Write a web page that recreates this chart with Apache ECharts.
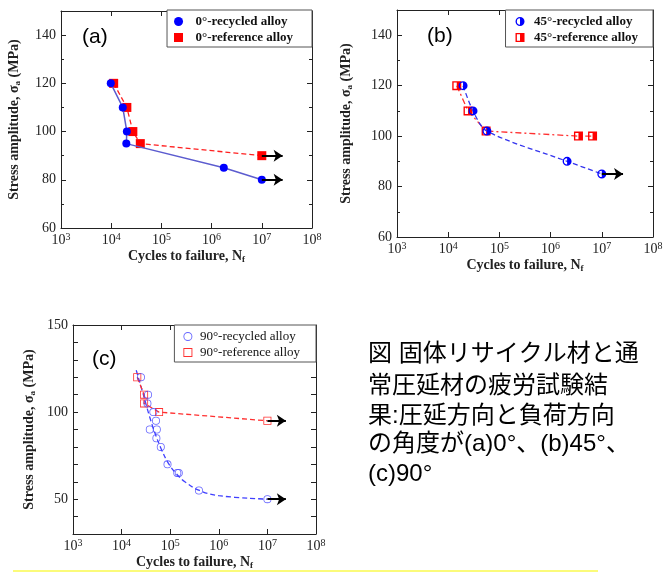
<!DOCTYPE html>
<html>
<head>
<meta charset="utf-8">
<script src="https://cdn.jsdelivr.net/npm/echarts@6/dist/echarts.min.js"></script>
<style>html,body{margin:0;padding:0;background:#fff;}#main{width:668px;height:572px;}</style>
</head>
<body>
<div id="main"></div>
<script>
// ---- data ----
const recA_x = [9.8e3, 1.7e4, 2.05e4, 2.0e4, 1.75e6, 1.0e7];
const recA_y = [120, 110, 100, 95, 85, 80];
const refA_x = [1.12e4, 2.05e4, 2.7e4, 3.8e4, 1.0e7];
const refA_y = [120, 110, 100, 95, 90];

const recB_x = [1.95e4, 3.05e4, 5.7e4, 2.1e6, 1.0e7];
const recB_y = [120, 110, 102, 90, 85];
const refB_x = [1.47e4, 2.44e4, 5.5e4, 3.5e6, 6.6e6];
const refB_y = [120, 110, 102, 100, 100];

const recC_x = [2.5e4, 3.5e4, 3.4e4, 4.5e4, 5.1e4, 3.8e4, 5.3e4, 5.2e4, 6.4e4, 8.8e4, 1.4e5, 1.5e5, 3.9e5, 1.0e7];
const recC_y = [120, 110, 105, 100, 95, 90, 90, 85, 80, 70, 65, 65, 55, 50];
const fitC_x = [2.0e4, 2.8e4, 3.8e4, 5.0e4, 6.5e4, 9.0e4, 1.3e5, 2.0e5, 4.0e5, 1.0e6, 1.0e7];
const fitC_y = [124, 110, 97, 87, 79, 71, 65, 60, 55, 52, 50];
const refC_x = [2.1e4, 2.9e4, 2.9e4, 5.9e4, 1.0e7];
const refC_y = [120, 110, 105, 100, 95];

const arrowsA = [[[1e7, 80], [2.6e7, 80]], [[1e7, 90], [2.6e7, 90]]];
const arrowsB = [[[1e7, 85], [2.6e7, 85]]];
const arrowsC = [[[1e7, 95], [2.4e7, 95]], [[1e7, 50], [2.4e7, 50]]];

const yTicksAB = [60, 80, 100, 120, 140];
const yTicksC = [50, 100, 150];
const names = {
  recA: '0°-recycled alloy', refA: '0°-reference alloy',
  recB: '45°-recycled alloy', refB: '45°-reference alloy',
  recC: '90°-recycled alloy', refC: '90°-reference alloy'
};
const captionLines = ['図 固体リサイクル材と通', '常圧延材の疲労試験結', '果:圧延方向と負荷方向', 'の角度が(a)0°、(b)45°、', '(c)90°'];

// ---- helpers ----
const zip = (xs, ys) => xs.map((x, i) => [x, ys[i]]);
const SERIF = 'Liberation Serif';
const halfCircle = 'path://M10,0 A10,10 0 1 1 10,20 A10,10 0 1 1 10,0 Z M10,3 A7,7 0 0 0 10,17 Z';
const halfSquare = 'path://M0,0 L20,0 L20,20 L0,20 Z M3,3 L3,17 L10,17 L10,3 Z';
const square = 'path://M0,0 L20,0 L20,20 L0,20 Z';
const emptySquare = 'path://M0,0 L20,0 L20,20 L0,20 Z M2,2 L2,18 L18,18 L18,2 Z';
const ring = 'path://M10,0 A10,10 0 1 1 10,20 A10,10 0 1 1 10,0 Z M10,2 A8,8 0 1 0 10,18 A8,8 0 1 0 10,2 Z';

const grids = [
  {left: 61, top: 11, width: 251, height: 217},
  {left: 397, top: 10, width: 256, height: 227},
  {left: 73, top: 325, width: 243, height: 209}
];

function xAxis(gi, top) {
  return {
    type: 'log', logBase: 10, min: 1e3, max: 1e8, gridIndex: gi,
    position: top ? 'top' : 'bottom',
    axisLine: {show: true, lineStyle: {color: '#222', width: 1}},
    axisTick: {show: true, inside: true, length: 5, lineStyle: {color: '#222'}},
    minorTick: {show: false},
    splitLine: {show: false},
    axisLabel: top ? {show: false} : {
      show: true, margin: 4,
      formatter: v => '{b|10}{e|' + Math.round(Math.log10(v)) + '}',
      rich: {
        b: {fontFamily: SERIF, fontSize: 14, color: '#222'},
        e: {fontFamily: SERIF, fontSize: 10, color: '#222', padding: [0, 0, 7, 0]}
      }
    },
    name: top ? '' : 'Cycles to failure, N{s|f}',
    nameLocation: 'middle', nameGap: 21,
    nameTextStyle: {
      fontFamily: SERIF, fontSize: 14, fontWeight: 'bold', color: '#222',
      rich: {s: {fontFamily: SERIF, fontSize: 9, color: '#222', padding: [6, 0, 0, 0]}}
    }
  };
}
function yAxis(gi, right, min, max, interval, ticks, gap) {
  return {
    type: 'value', gridIndex: gi, min: min, max: max, interval: interval,
    position: right ? 'right' : 'left',
    axisLine: {show: true, lineStyle: {color: '#222', width: 1}},
    axisTick: {show: true, inside: true, length: 5, lineStyle: {color: '#222'}},
    minorTick: interval === 20 ? {show: true, splitNumber: 2, length: 3, lineStyle: {color: '#222'}} : {show: false},
    splitLine: {show: false},
    axisLabel: right ? {show: false} : {
      show: true, margin: 5, fontFamily: SERIF, fontSize: 14, color: '#222',
      formatter: v => ticks.indexOf(v) >= 0 ? String(v) : ''
    },
    name: right ? '' : 'Stress amplitude, σ{s|a} (MPa)',
    nameLocation: 'middle', nameGap: gap, nameRotate: 90,
    nameTextStyle: {
      fontFamily: SERIF, fontSize: 14, fontWeight: 'bold', color: '#222',
      rich: {s: {fontFamily: SERIF, fontSize: 9, fontWeight: 'bold', color: '#222', padding: [6, 0, 0, 0]}}
    }
  };
}
function arrows(list) {
  return {
    silent: true, symbol: ['none', 'arrow'], symbolSize: 9,
    lineStyle: {color: '#000', type: 'solid', width: 2}, label: {show: false},
    data: list.map(a => [{coord: a[0]}, {coord: a[1]}])
  };
}
function legend(items, right, top, pad, bold, size, textPadL) {
  return {
    orient: 'vertical', right: right, top: top, padding: pad,
    itemWidth: 10, itemHeight: 9, itemGap: 3,
    borderColor: '#555', borderWidth: 1, backgroundColor: '#fff',
    textStyle: {fontFamily: SERIF, fontSize: size, fontWeight: bold ? 'bold' : 'normal', color: '#111',
      padding: [0, 0, 0, textPadL]},
    data: items, selectedMode: false
  };
}

const option = {
  animation: false,
  backgroundColor: '#fff',
  grid: grids,
  xAxis: [xAxis(0, false), xAxis(1, false), xAxis(2, false), xAxis(0, true), xAxis(1, true), xAxis(2, true)],
  yAxis: [
    yAxis(0, false, 60, 150, 20, yTicksAB, 39),
    yAxis(1, false, 60, 150, 20, yTicksAB, 43),
    yAxis(2, false, 30, 150, 10, yTicksC, 36),
    yAxis(0, true, 60, 150, 20, yTicksAB, 0),
    yAxis(1, true, 60, 150, 20, yTicksAB, 0),
    yAxis(2, true, 30, 150, 10, yTicksC, 0)
  ],
  legend: [
    legend([{name: names.recA, icon: 'circle'}, {name: names.refA, icon: square}], 356, 10, [5, 19, 3, 7], true, 13, 7),
    legend([{name: names.recB, icon: halfCircle}, {name: names.refB, icon: halfSquare}], 15, 10, [5, 15, 3, 10], true, 13, 4),
    legend([{name: names.recC, icon: ring}, {name: names.refC, icon: emptySquare}], 352, 325, [5, 16, 3, 9], false, 13, 2)
  ],
  series: [
    // (a)
    {name: names.refA, type: 'line', xAxisIndex: 0, yAxisIndex: 0, data: zip(refA_x, refA_y),
      symbol: 'rect', symbolSize: 9, itemStyle: {color: '#ff0000'},
      lineStyle: {color: '#ff2020', type: [5, 3], width: 1.3}, z: 3, markLine: arrows([arrowsA[1]])},
    {name: names.recA, type: 'line', xAxisIndex: 0, yAxisIndex: 0, data: zip(recA_x, recA_y),
      symbol: 'circle', symbolSize: 8, itemStyle: {color: '#0000ff'},
      lineStyle: {color: '#5c5ccf', type: 'solid', width: 1.5}, z: 4, markLine: arrows([arrowsA[0]])},
    // (b)
    {name: names.refB, type: 'line', xAxisIndex: 1, yAxisIndex: 1, data: zip(refB_x, refB_y),
      symbol: halfSquare, symbolSize: 9, itemStyle: {color: '#ff0000'},
      lineStyle: {color: '#ff3030', type: [6, 3, 2, 3], width: 1.3}, z: 3},
    {name: names.recB, type: 'line', xAxisIndex: 1, yAxisIndex: 1, data: zip(recB_x, recB_y),
      symbol: halfCircle, symbolSize: 9, smooth: 0.3, itemStyle: {color: '#0000ff'},
      lineStyle: {color: '#3535ee', type: [5, 3], width: 1.3}, z: 4, markLine: arrows(arrowsB)},
    // (c)
    {name: 'fitC', type: 'line', xAxisIndex: 2, yAxisIndex: 2, data: zip(fitC_x, fitC_y),
      symbol: 'none', smooth: 0.4, lineStyle: {color: '#4040ff', type: [5, 3], width: 1.3}, z: 2},
    {name: names.refC, type: 'line', xAxisIndex: 2, yAxisIndex: 2, data: zip(refC_x, refC_y),
      symbol: emptySquare, symbolSize: 8, itemStyle: {color: '#ff3030'},
      lineStyle: {color: '#ff3030', type: [5, 3], width: 1.3}, z: 3, markLine: arrows([arrowsC[0]])},
    {name: names.recC, type: 'scatter', xAxisIndex: 2, yAxisIndex: 2, data: zip(recC_x, recC_y),
      symbol: ring, symbolSize: 8, itemStyle: {color: '#4040ff'}, z: 4,
      markLine: arrows([arrowsC[1]])}
  ],
  graphic: [
    {type: 'text', left: 82, top: 27, style: {text: '(a)', font: '21px "Liberation Sans"', fill: '#000'}},
    {type: 'text', left: 427, top: 26, style: {text: '(b)', font: '21px "Liberation Sans"', fill: '#000'}},
    {type: 'text', left: 92, top: 349, style: {text: '(c)', font: '21px "Liberation Sans"', fill: '#000'}},
    {type: 'rect', left: 13, top: 570, shape: {width: 585, height: 2}, style: {fill: '#fbfb7a'}, z: -1}
  ].concat(captionLines.map((t, i) => ({
    type: 'text', left: 368, top: [342, 374, 404, 432, 462][i],
    style: {text: t, font: '24px "Liberation Sans", "Noto Sans CJK JP"', fill: '#000'}
  })))
};

const chart = echarts.init(document.getElementById('main'), null, {renderer: 'canvas'});
chart.setOption(option);
</script>
</body>
</html>
